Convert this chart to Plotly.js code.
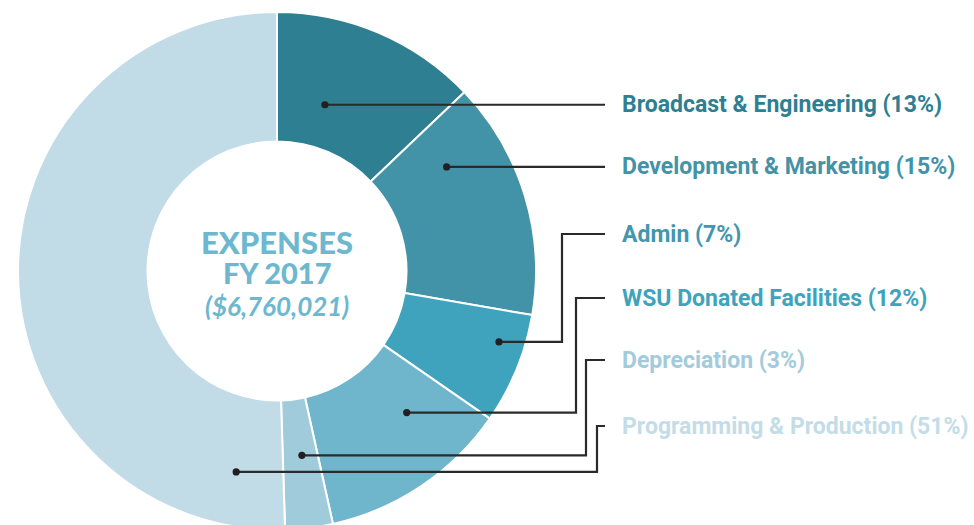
<!DOCTYPE html>
<html>
<head>
<meta charset="utf-8">
<script src="https://cdn.plot.ly/plotly-3.0.1.min.js"></script>
<style>
  html, body { margin: 0; padding: 0; background: #ffffff; overflow: hidden; }
  #chart { width: 974px; height: 560px; }
</style>
</head>
<body>
<div id="chart"></div>
<script>
// ---- data ----
const categories = [
  "Broadcast & Engineering",
  "Development & Marketing",
  "Admin",
  "WSU Donated Facilities",
  "Depreciation",
  "Programming & Production"
];
const values = [13, 15, 7, 12, 3, 51];
const centerTitle = ["EXPENSES", "FY 2017"];
const centerAmount = "($6,760,021)";

// ---- styles & layout geometry ----
const sliceColors = ["#2e7f91", "#4393a8", "#3fa3bd", "#6fb6cc", "#a0cbdb", "#c2dce7"];
const labelColors = ["#2e7f91", "#4393a8", "#4396ad", "#3fa3bd", "#a3cbdb", "#c3dde8"];
const W = 974, H = 560;
const PIE = { cx: 277, cy: 271, r: 259, hole: 0.5 };
// leader line: where the dot sits inside its slice (fraction of the slice angle, radius in px),
// elbow x (null = straight), label y
const leaderFrac = [0.347, 0.227, 0.317, 0.298, 0.447, 0.073];
const leaderRad  = [173, 199, 233, 192, 186, 205];
const leaderElbow = [null, null, 562, 576, 586, 597];
const labelY = [105, 168, 234, 298, 360, 426];
const lineEndX = 605, labelX = 620;
const labelFont = "Roboto, Open Sans, sans-serif";

// ---- build ----
const total = values.reduce((a, b) => a + b, 0);
let cum = 0;
const shapes = [];
const annotations = [];
values.forEach((v, i) => {
  const a0 = cum / total * 2 * Math.PI;
  cum += v;
  const a1 = cum / total * 2 * Math.PI;
  const a = a0 + (a1 - a0) * leaderFrac[i];
  const dx = PIE.cx + leaderRad[i] * Math.sin(a);
  const dy = PIE.cy - leaderRad[i] * Math.cos(a);
  let path, ly;
  if (leaderElbow[i] === null) {
    ly = dy;
    path = `M ${dx},${dy} H ${lineEndX}`;
  } else {
    ly = labelY[i];
    path = `M ${dx},${dy} H ${leaderElbow[i]} V ${ly} H ${lineEndX}`;
  }
  shapes.push({
    type: "path", xref: "x", yref: "y", path: path, layer: "above",
    line: { color: "#2b2a2a", width: 2.2 }
  });
  shapes.push({
    type: "circle", xref: "x", yref: "y", layer: "above",
    x0: dx - 3.6, x1: dx + 3.6, y0: dy - 3.6, y1: dy + 3.6,
    fillcolor: "#231f20", line: { color: "#231f20", width: 0 }
  });
  annotations.push({
    xref: "x", yref: "y", x: labelX, y: ly, xanchor: "left", yanchor: "middle",
    showarrow: false,
    text: `${categories[i]} (${v}%)`,
    font: { family: labelFont, size: 23, weight: 700, color: labelColors[i] }
  });
});

annotations.push({
  xref: "x", yref: "y", x: PIE.cx, y: 242, xanchor: "center", yanchor: "middle", showarrow: false,
  text: centerTitle[0],
  font: { family: "Lato, sans-serif", size: 31, weight: 900, color: "#6db8cf" }
});
annotations.push({
  xref: "x", yref: "y", x: PIE.cx, y: 272, xanchor: "center", yanchor: "middle", showarrow: false,
  text: centerTitle[1],
  font: { family: "Lato, sans-serif", size: 29, weight: 900, color: "#6db8cf" }
});
annotations.push({
  xref: "x", yref: "y", x: PIE.cx, y: 306, xanchor: "center", yanchor: "middle", showarrow: false,
  text: centerAmount,
  font: { family: "Lato, sans-serif", size: 26, weight: 700, style: "italic", color: "#6db8cf" }
});

const pie = {
  type: "pie",
  labels: categories,
  values: values,
  sort: false,
  direction: "clockwise",
  rotation: 0,
  hole: PIE.hole,
  textinfo: "none",
  hoverinfo: "label+percent",
  showlegend: false,
  marker: { colors: sliceColors, line: { color: "#ffffff", width: 2 } },
  domain: {
    x: [(PIE.cx - PIE.r) / W, (PIE.cx + PIE.r) / W],
    y: [1 - (PIE.cy + PIE.r) / H, 1 - (PIE.cy - PIE.r) / H]
  }
};
const anchor = { type: "scatter", x: [], y: [], showlegend: false, hoverinfo: "skip" };

const layout = {
  width: W, height: H,
  margin: { l: 0, r: 0, t: 0, b: 0 },
  paper_bgcolor: "#ffffff", plot_bgcolor: "rgba(0,0,0,0)",
  xaxis: { range: [0, W], visible: false, fixedrange: true, domain: [0, 1] },
  yaxis: { range: [H, 0], visible: false, fixedrange: true, domain: [0, 1] },
  shapes: shapes,
  annotations: annotations,
  showlegend: false
};

Plotly.newPlot("chart", [anchor, pie], layout, { displayModeBar: false, staticPlot: true });
</script>
</body>
</html>
